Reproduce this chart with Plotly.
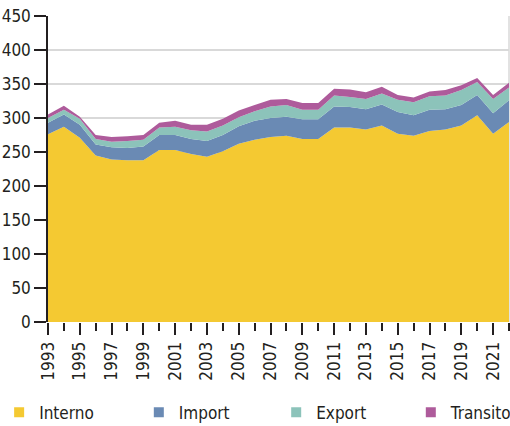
import plotly.graph_objects as go

years = list(range(1993, 2023))
interno = [276, 287, 271, 245, 239, 238, 238, 253, 253, 247, 243, 251, 262, 268, 272,
           274, 269, 269, 286, 286, 283, 289, 277, 274, 281, 283, 289, 304, 277, 294]
import_ = [17, 18, 19, 16, 18, 18, 20, 22, 22, 22, 23, 24, 26, 28, 28,
           28, 29, 29, 31, 30, 30, 31, 32, 30, 31, 30, 30, 30, 30, 32]
export = [7, 7, 9, 8, 8, 10, 10, 11, 12, 13, 14, 14, 13, 14, 17,
          17, 14, 14, 16, 15, 15, 16, 18, 19, 20, 20, 22, 19, 21, 19]
transito = [5, 6, 3, 6, 7, 7, 7, 7, 9, 8, 10, 10, 10, 9, 10,
            9, 10, 10, 10, 11, 10, 10, 7, 7, 7, 8, 7, 6, 6, 7]

series = [("Interno", interno, "#F4C932"),
          ("Import", import_, "#6A8AB4"),
          ("Export", export, "#8CC3BA"),
          ("Transito", transito, "#AE5B9B")]

font = "DejaVu Sans Condensed, Liberation Sans Narrow, sans-serif"
legend_ids = ["legend", "legend2", "legend3", "legend4"]
legend_x = [-0.106, 0.197, 0.495, 0.787]

fig = go.Figure()
for name, vals, col in series:
    fig.add_trace(go.Scatter(x=years, y=vals, name=name, stackgroup="one",
                             mode="none", fillcolor=col, showlegend=False,
                             hoverinfo="x+y+name"))
for (name, vals, col), lid in zip(series, legend_ids):
    fig.add_trace(go.Scatter(x=[None], y=[None], name=name, mode="markers",
                             marker=dict(symbol="square", size=10, color=col),
                             showlegend=True, legend=lid))

fig.add_shape(type="line", xref="paper", yref="paper", x0=1, x1=1, y0=0, y1=1,
              line=dict(color="#d9d9d9", width=1.5), layer="below")

legend_common = dict(orientation="h", y=-0.296, yanchor="middle", xanchor="left",
                     font=dict(size=17), itemclick=False, bgcolor="rgba(0,0,0,0)")
legends = {lid: dict(x=lx, **legend_common) for lid, lx in zip(legend_ids, legend_x)}

fig.update_layout(
    width=510, height=426,
    margin=dict(l=48, r=1, t=16, b=104, autoexpand=False),
    paper_bgcolor="white", plot_bgcolor="white",
    font=dict(family=font, size=17, color="#231f20"),
    **legends,
    xaxis=dict(range=[1993, 2022], tickmode="linear", tick0=1993, dtick=2,
               tickangle=-90, ticks="outside", ticklen=12, tickcolor="#231f20",
               tickwidth=1.5, showgrid=False, zeroline=False,
               showline=False, automargin=False,
               minor=dict(dtick=1, tick0=1993, ticks="outside", ticklen=8,
                          tickcolor="#231f20", tickwidth=1.5, showgrid=False)),
    yaxis=dict(range=[0, 450], tickmode="linear", tick0=0, dtick=50,
               ticks="outside", ticklen=12, tickcolor="#231f20", tickwidth=1.5,
               showline=True, linecolor="#231f20", linewidth=1.5,
               showgrid=True, gridcolor="#d9d9d9", gridwidth=1.5,
               zeroline=False, automargin=False),
)

fig.write_html("out.html", config={"displayModeBar": False},
               post_script="document.body.style.margin='0';document.body.style.padding='0';document.body.style.overflow='hidden';")
